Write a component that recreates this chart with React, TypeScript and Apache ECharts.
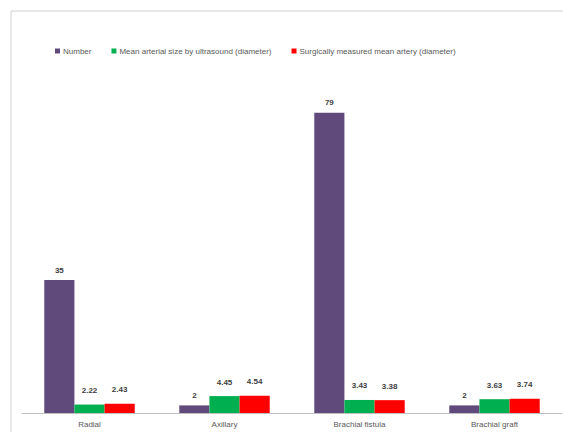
import React, { useEffect, useRef } from "react";
import * as echarts from "echarts";

const categories = ["Radial", "Axillary", "Brachial fistula", "Brachial graft"];
const numberValues = [35, 2, 79, 2];
const ultrasoundValues = [2.22, 4.45, 3.43, 3.63];
const surgicalValues = [2.43, 4.54, 3.38, 3.74];
const seriesNames = [
  "Number",
  "Mean arterial size by ultrasound (diameter)",
  "Surgically measured mean artery (diameter)",
];

export default function App() {
  const ref = useRef<HTMLDivElement>(null);
  useEffect(() => {
    if (!ref.current) return;
    const chart = echarts.init(ref.current, undefined, { renderer: "svg" });
    const label = {
      show: true,
      position: "top" as const,
      distance: 6,
      fontSize: 8,
      fontWeight: "bold" as const,
      color: "#404040",
      fontFamily: "Liberation Sans",
    };
    chart.setOption({
      animation: false,
      backgroundColor: "#ffffff",
      textStyle: { fontFamily: "Liberation Sans" },
      graphic: [
        {
          type: "rect",
          shape: { x: 11, y: 11, width: 700, height: 600 },
          style: { fill: "none", stroke: "#d0d0d0", lineWidth: 1 },
          silent: true,
        },
      ],
      legend: {
        top: 42,
        left: 50,
        itemWidth: 5,
        itemHeight: 5,
        itemGap: 20,
        icon: "rect",
        textStyle: { fontSize: 8, color: "#595959", fontFamily: "Liberation Sans", padding: [0, 0, 0, -2] },
        data: seriesNames,
      },
      grid: { left: 22, right: 1, top: 109, bottom: 19, containLabel: false },
      xAxis: {
        type: "category",
        data: categories,
        axisLine: { lineStyle: { color: "#bfbfbf", width: 1 } },
        axisTick: { show: false },
        axisLabel: { fontSize: 8, color: "#595959", margin: 7, fontFamily: "Liberation Sans" },
      },
      yAxis: {
        type: "value",
        min: 0,
        max: 80,
        show: false,
        splitLine: { show: false },
      },
      series: [
        {
          name: seriesNames[0],
          type: "bar",
          data: numberValues,
          itemStyle: { color: "#604a7b" },
          barGap: "0%",
          barCategoryGap: "33%",
          label,
        },
        {
          name: seriesNames[1],
          type: "bar",
          data: ultrasoundValues,
          itemStyle: { color: "#00b050" },
          label: { ...label, distance: 10 },
        },
        {
          name: seriesNames[2],
          type: "bar",
          data: surgicalValues,
          itemStyle: { color: "#ff0000" },
          label: { ...label, distance: 10 },
        },
      ],
    });
    return () => chart.dispose();
  }, []);
  return (
    <div
      ref={ref}
      style={{ position: "absolute", left: 0, top: 0, width: 563, height: 432 }}
    />
  );
}
